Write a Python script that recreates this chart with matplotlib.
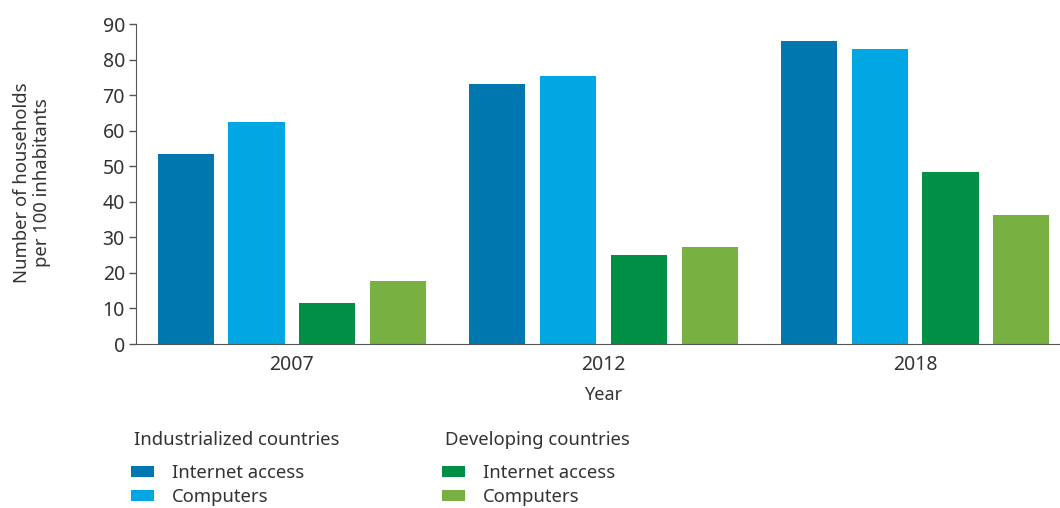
import matplotlib.pyplot as plt
import numpy as np

plt.rcParams['font.family'] = ['Noto Sans', 'DejaVu Sans']

years = ["2007", "2012", "2018"]
ind_internet = [53.3, 73.1, 85.1]
ind_computers = [62.3, 75.3, 83.1]
dev_internet = [11.5, 25.0, 48.3]
dev_computers = [17.6, 27.3, 36.3]

colors = ["#0077AF", "#00A7E3", "#008F45", "#78B042"]
series = [ind_internet, ind_computers, dev_internet, dev_computers]
text_color = "#333333"

fig = plt.figure(figsize=(10.6, 5.08), dpi=100)
ax = fig.add_axes([136 / 1060, 164 / 508, 935 / 1060, 320 / 508])

x = np.arange(len(years))
pitch = 0.227
width = 0.18
bars = []
for i, (vals, c) in enumerate(zip(series, colors)):
    b = ax.bar(x + (i - 1.5) * pitch, vals, width=width, color=c)
    bars.append(b)

ax.set_xlim(-0.5, 2.5)
ax.set_ylim(0, 90)
ax.set_yticks(range(0, 91, 10))
ax.set_xticks(x)
ax.set_xticklabels(years)
ax.tick_params(axis="x", length=0, pad=8, labelsize=14, labelcolor=text_color)
ax.tick_params(axis="y", length=5, width=1, color="#555555", pad=3,
               labelsize=14, labelcolor=text_color)
for s in ["top", "right"]:
    ax.spines[s].set_visible(False)
for s in ["left", "bottom"]:
    ax.spines[s].set_color("#555555")

ax.set_xlabel("Year", fontsize=13, color=text_color, labelpad=8)
ax.set_ylabel("Number of households\nper 100 inhabitants", fontsize=13.3,
              color=text_color, linespacing=1.15, va="center")
ax.yaxis.set_label_coords(-0.111, 0.503)

fig.text(134 / 1060, 1 - 440 / 508, "Industrialized countries", fontsize=13.3,
         color=text_color, va="center")
fig.text(445 / 1060, 1 - 440 / 508, "Developing countries", fontsize=13.3,
         color=text_color, va="center")

for handles, x0 in [((bars[0], bars[1]), 131), ((bars[2], bars[3]), 442)]:
    leg = fig.legend(handles, ["Internet access", "Computers"], loc="upper left",
                     bbox_to_anchor=(x0 / 1060, 1 - 464 / 508), frameon=False,
                     fontsize=13.3, handlelength=1.25, handleheight=0.5,
                     handletextpad=0.95, labelspacing=0.33, borderpad=0,
                     borderaxespad=0)
    for t in leg.get_texts():
        t.set_color(text_color)

fig.savefig("out.png", dpi=100)
